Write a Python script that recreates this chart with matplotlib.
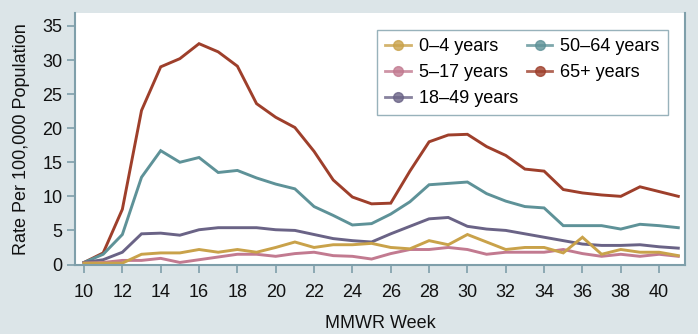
import numpy as np
import matplotlib.pyplot as plt
from matplotlib.lines import Line2D

plt.rcParams['font.family'] = ['Liberation Sans', 'DejaVu Sans']

weeks = list(range(10, 42))

age_0_4 = [0.2, 0.2, 0.2, 1.5, 1.7, 1.7, 2.2, 1.8, 2.2, 1.8, 2.5, 3.3, 2.5, 2.9, 2.9, 3.1,
           2.5, 2.3, 3.5, 2.9, 4.4, 3.3, 2.2, 2.5, 2.5, 1.7, 4.0, 1.5, 2.2, 1.8, 1.8, 1.3]
age_5_17 = [0.2, 0.3, 0.6, 0.6, 0.9, 0.3, 0.7, 1.1, 1.5, 1.5, 1.2, 1.6, 1.8, 1.3, 1.2, 0.8,
            1.6, 2.2, 2.2, 2.5, 2.2, 1.5, 1.8, 1.8, 1.8, 2.2, 1.6, 1.2, 1.5, 1.2, 1.5, 1.2]
age_18_49 = [0.3, 0.7, 1.8, 4.5, 4.6, 4.3, 5.1, 5.4, 5.4, 5.4, 5.1, 5.0, 4.4, 3.8, 3.5, 3.3,
             4.5, 5.6, 6.7, 6.9, 5.6, 5.2, 5.0, 4.5, 4.0, 3.5, 3.0, 2.8, 2.8, 2.9, 2.6, 2.4]
age_50_64 = [0.3, 1.5, 4.4, 12.8, 16.7, 15.0, 15.7, 13.5, 13.8, 12.7, 11.8, 11.1, 8.5, 7.2, 5.8, 6.0,
             7.4, 9.2, 11.7, 11.9, 12.1, 10.4, 9.3, 8.5, 8.3, 5.7, 5.7, 5.7, 5.2, 5.9, 5.7, 5.4]
age_65_plus = [0.3, 1.7, 8.1, 22.6, 29.0, 30.2, 32.4, 31.2, 29.1, 23.6, 21.6, 20.1, 16.6, 12.4, 9.9, 8.9,
               9.0, 13.7, 18.0, 19.0, 19.1, 17.3, 16.0, 14.0, 13.7, 11.0, 10.5, 10.2, 10.0, 11.4, 10.7, 10.0]

series = [
    ('0\u20134 years', age_0_4, '#c9a24a'),
    ('5\u201317 years', age_5_17, '#c27a90'),
    ('18\u201349 years', age_18_49, '#6a6386'),
    ('50\u201364 years', age_50_64, '#5e9298'),
    ('65+ years', age_65_plus, '#9e3f2b'),
]

bg = '#dce5e8'
spine = '#7f9faa'

fig = plt.figure(figsize=(6.98, 3.34), dpi=100, facecolor=bg)
ax = fig.add_axes([75 / 698, 1 - 264.5 / 334, 610 / 698, 251.5 / 334])
ax.set_facecolor('white')

# draw the older groups first so the small ones sit on top
for label, vals, col in reversed(series):
    ax.plot(weeks, vals, color=col, lw=2.1, solid_joinstyle='miter')

ax.set_xlim(9.53, 41.35)
ax.set_ylim(0, 36.9)
ax.set_xticks(range(10, 41, 2))
ax.set_yticks(range(0, 36, 5))

for s in ['left', 'bottom', 'right']:
    ax.spines[s].set_color(spine)
    ax.spines[s].set_linewidth(1.5)
ax.spines['top'].set_visible(False)
ax.tick_params(axis='both', colors=spine, labelcolor='#111111', labelsize=13,
               length=6, width=1.2, direction='out')
ax.tick_params(axis='x', pad=8)
ax.tick_params(axis='y', pad=3)

ax.set_xlabel('MMWR Week', fontsize=13, color='#111111', labelpad=10)
ax.set_ylabel('Rate Per 100,000 Population', fontsize=13, color='#111111', labelpad=9)

handles = [Line2D([0], [0], color=c, lw=2, marker='o', markersize=7, markerfacecolor=c,
                  markeredgecolor=c, alpha=0.8, label=l) for l, v, c in series]
leg = ax.legend(handles, [s[0] for s in series],
                ncol=2, loc='upper right', bbox_to_anchor=(0.972, 0.932),
                fontsize=13, frameon=True, fancybox=False, handlelength=1.4,
                handletextpad=0.45, columnspacing=0.5, labelspacing=0.5,
                borderpad=0.45, borderaxespad=0, edgecolor=spine)
leg.get_frame().set_linewidth(1.0)

fig.savefig('out.png', dpi=100, facecolor=bg)
